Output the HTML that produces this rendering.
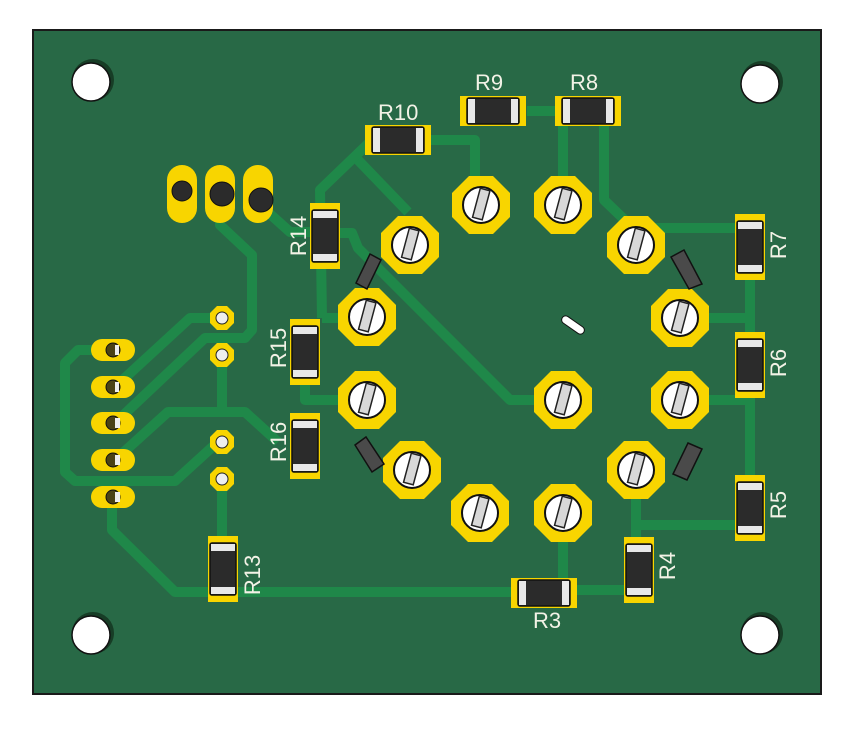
<!DOCTYPE html>
<html><head><meta charset="utf-8"><style>
html,body{margin:0;padding:0;background:#fff;}
svg{display:block;}
text{font-family:"Liberation Sans",sans-serif;fill:#f2f2e6;font-size:22px;}
</style></head><body>
<svg width="867" height="732" viewBox="0 0 867 732" xmlns="http://www.w3.org/2000/svg">
<defs>
<polygon id="oct" points="-12,-29 12,-29 29,-12 29,12 12,29 -12,29 -29,12 -29,-12" fill="#f8d500"/>
<polygon id="voct" points="-5,-12 5,-12 12,-5 12,5 5,12 -5,12 -12,5 -12,-5" fill="#f8d500"/>
<g id="rh">
<rect x="-33" y="-15" width="66" height="30" fill="#f8d500"/>
<rect x="-26" y="-13" width="52" height="26" rx="2" fill="#2b2b2b" stroke="#111" stroke-width="1.5"/>
<rect x="-25" y="-12" width="7" height="24" fill="#e8e8e8"/>
<rect x="18" y="-12" width="7" height="24" fill="#e8e8e8"/>
</g>
<g id="rv">
<rect x="-15" y="-33" width="30" height="66" fill="#f8d500"/>
<rect x="-13" y="-26" width="26" height="52" rx="2" fill="#2b2b2b" stroke="#111" stroke-width="1.5"/>
<rect x="-12" y="-25" width="24" height="7" fill="#e8e8e8"/>
<rect x="-12" y="18" width="24" height="7" fill="#e8e8e8"/>
</g>
<g id="screw">
<circle r="18" fill="#fff" stroke="#111" stroke-width="2"/>
<rect x="-5" y="-16" width="10" height="30" fill="#d8d8d8" stroke="#222" stroke-width="1.5" transform="rotate(15)"/>
</g>
<g id="hole">
<circle r="21" fill="#173d26"/>
<circle cx="-2" cy="2" r="19" fill="#fff" stroke="#111" stroke-width="1.5"/>
</g>
</defs>
<rect x="33" y="30" width="788" height="664" fill="#286946" stroke="#1a1a1a" stroke-width="2"/>
<use href="#hole" x="93" y="80"/>
<use href="#hole" x="762" y="82"/>
<use href="#hole" x="93" y="633"/>
<use href="#hole" x="762" y="633"/>

<g fill="none" stroke="#1f8849" stroke-width="10" stroke-linejoin="round">
<polyline points="431,140 475,140 475,205"/>
<polyline points="527,111 555,111"/>
<polyline points="563,120 563,205"/>
<polyline points="604,120 604,200 630,225"/>
<polyline points="650,228 738,228"/>
<polyline points="750,260 750,350"/>
<polyline points="690,318 750,318"/>
<polyline points="750,380 750,490"/>
<polyline points="690,400 750,400"/>
<polyline points="738,525 636,525 636,480"/>
<polyline points="636,525 636,545"/>
<polyline points="654,590 577,590"/>
<polyline points="563,520 563,580"/>
<polyline points="511,592 175,592 112,530 112,497"/>
<polyline points="222,545 222,478"/>
<polyline points="372,140 320,190 322,318"/>
<polyline points="358,160 408,212"/>
<polyline points="340,233 352,233 358,248 510,400 563,400"/>
<polyline points="322,318 367,318"/>
<polyline points="305,380 305,400 367,400"/>
<polyline points="115,460 168,412 245,412 278,442"/>
<polyline points="222,355 222,412"/>
<polyline points="100,350 78,350 65,363 65,472 75,481 175,481 220,440"/>
<polyline points="115,387 190,318 222,318"/>
<polyline points="115,423 205,338 245,338 252,330 252,255 220,225 220,200"/>
<polyline points="260,205 290,232 310,232"/>
</g>

<rect x="167" y="165" width="30" height="58" rx="15" fill="#f8d500"/>
<rect x="205" y="165" width="30" height="58" rx="15" fill="#f8d500"/>
<rect x="243" y="165" width="30" height="58" rx="15" fill="#f8d500"/>
<circle cx="182" cy="191" r="10" fill="#2b2b2b" stroke="#111"/>
<circle cx="222" cy="194" r="12" fill="#2b2b2b" stroke="#111"/>
<circle cx="261" cy="200" r="12" fill="#2b2b2b" stroke="#111"/>

<g fill="#f8d500">
<rect x="91" y="339" width="44" height="22" rx="11"/>
<rect x="91" y="376" width="44" height="22" rx="11"/>
<rect x="91" y="412" width="44" height="22" rx="11"/>
<rect x="91" y="449" width="44" height="22" rx="11"/>
<rect x="91" y="486" width="44" height="22" rx="11"/>
</g>
<g fill="#4a4216" stroke="#111">
<circle cx="113" cy="350" r="7"/><circle cx="113" cy="387" r="7"/><circle cx="113" cy="423" r="7"/><circle cx="113" cy="460" r="7"/><circle cx="113" cy="497" r="7"/>
</g>
<g fill="#eee"><rect x="115" y="345" width="4" height="10"/><rect x="115" y="382" width="4" height="10"/><rect x="115" y="418" width="5" height="10"/><rect x="115" y="455" width="5" height="10"/><rect x="115" y="492" width="5" height="10"/></g>

<use href="#voct" x="222" y="318"/><use href="#voct" x="222" y="355"/><use href="#voct" x="222" y="442"/><use href="#voct" x="222" y="479"/>
<g fill="#eee" stroke="#222"><circle cx="222" cy="318" r="6"/><circle cx="222" cy="355" r="6"/><circle cx="222" cy="442" r="6"/><circle cx="222" cy="479" r="6"/></g>

<g>
<use href="#oct" x="481" y="205"/><use href="#oct" x="563" y="205"/>
<use href="#oct" x="410" y="245"/><use href="#oct" x="636" y="245"/>
<use href="#oct" x="367" y="317"/><use href="#oct" x="680" y="318"/>
<use href="#oct" x="367" y="400"/><use href="#oct" x="563" y="400"/><use href="#oct" x="680" y="400"/>
<use href="#oct" x="412" y="470"/><use href="#oct" x="636" y="470"/>
<use href="#oct" x="480" y="513"/><use href="#oct" x="563" y="513"/>
</g>
<use href="#screw" x="481" y="205"/><use href="#screw" x="563" y="205"/>
<use href="#screw" x="410" y="245"/><use href="#screw" x="636" y="245"/>
<use href="#screw" x="367" y="317"/><use href="#screw" x="680" y="318"/>
<use href="#screw" x="367" y="400"/><use href="#screw" x="563" y="400"/><use href="#screw" x="680" y="400"/>
<use href="#screw" x="412" y="470"/><use href="#screw" x="636" y="470"/>
<use href="#screw" x="480" y="513"/><use href="#screw" x="563" y="513"/>

<g fill="#4a4a4a" stroke="#111" stroke-width="1.5">
<polygon points="370,254 381,260 367,289 356,283"/>
<polygon points="355,445 366,437 384,464 372,472"/>
<polygon points="671,257 684,250 702,284 689,289"/>
<polygon points="688,443 702,449 687,480 673,474"/>
</g>
<rect x="560" y="321" width="26" height="8" rx="4" fill="#fff" stroke="#111" transform="rotate(35 573 325)"/>

<use href="#rh" x="398" y="140"/>
<use href="#rh" x="493" y="111"/>
<use href="#rh" x="588" y="111"/>
<use href="#rv" x="325" y="236"/>
<use href="#rv" x="305" y="352"/>
<use href="#rv" x="305" y="446"/>
<use href="#rv" x="750" y="247"/>
<use href="#rv" x="750" y="365"/>
<use href="#rv" x="750" y="508"/>
<use href="#rv" x="639" y="570"/>
<use href="#rh" x="544" y="593"/>
<use href="#rv" x="223" y="569"/>

<text x="378" y="120">R10</text>
<text x="475" y="90">R9</text>
<text x="570" y="90">R8</text>
<text x="547" y="628" text-anchor="middle">R3</text>
<text transform="translate(306,236) rotate(-90)" text-anchor="middle">R14</text>
<text transform="translate(286,348) rotate(-90)" text-anchor="middle">R15</text>
<text transform="translate(286,442) rotate(-90)" text-anchor="middle">R16</text>
<text transform="translate(786,245) rotate(-90)" text-anchor="middle">R7</text>
<text transform="translate(786,363) rotate(-90)" text-anchor="middle">R6</text>
<text transform="translate(786,505) rotate(-90)" text-anchor="middle">R5</text>
<text transform="translate(675,566) rotate(-90)" text-anchor="middle">R4</text>
<text transform="translate(260,575) rotate(-90)" text-anchor="middle">R13</text>
</svg>
</body></html>
